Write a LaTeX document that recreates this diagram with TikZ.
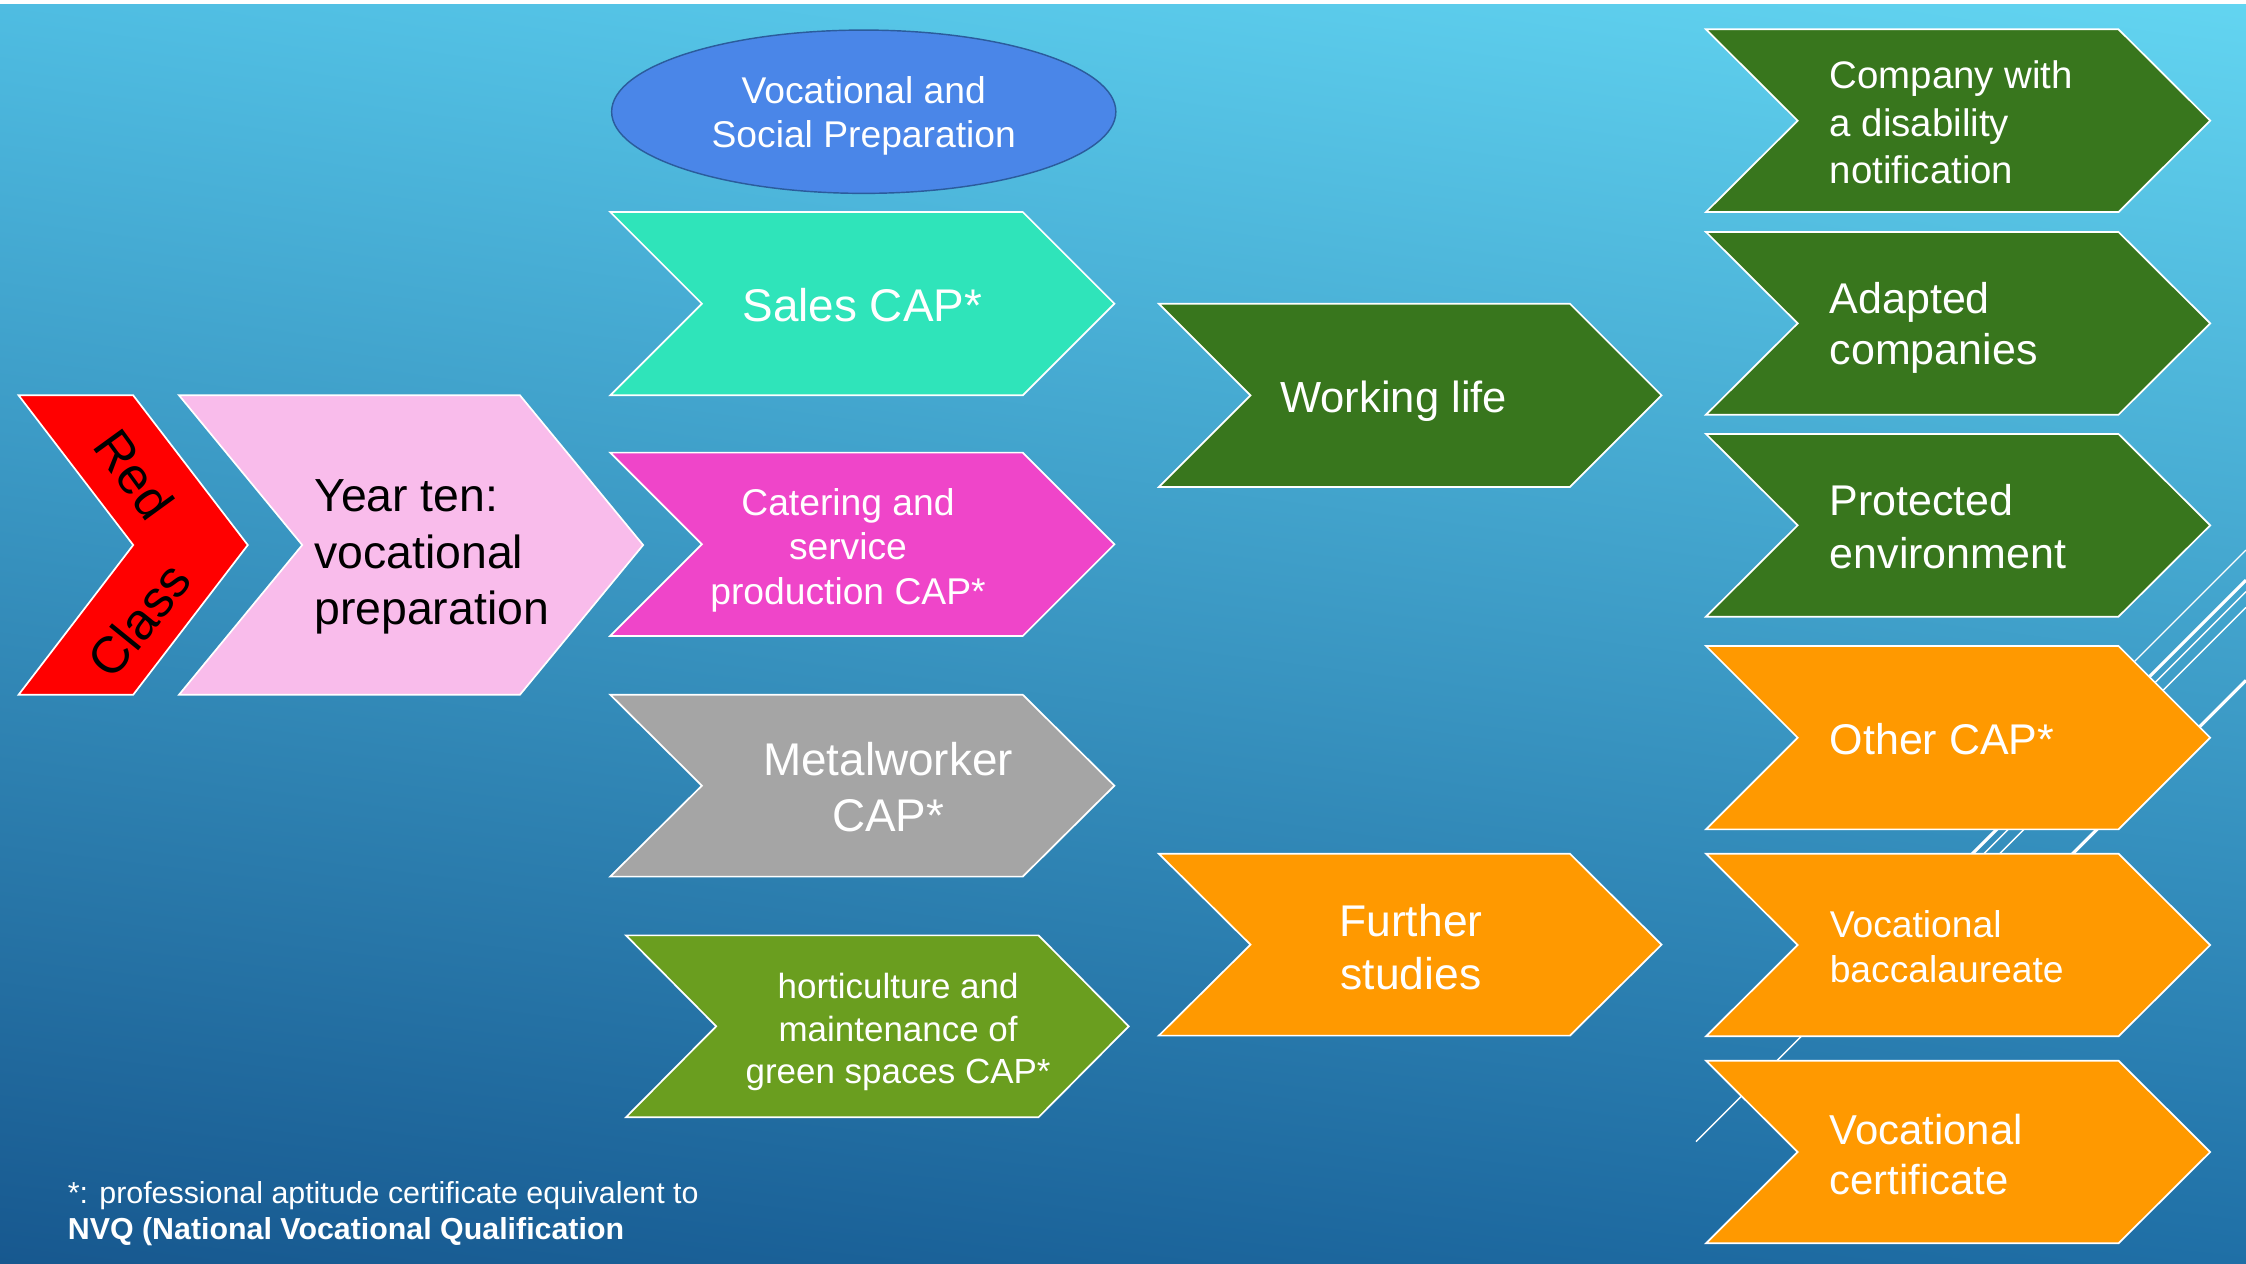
\documentclass[tikz,border=0pt]{standalone}
\usepackage{fontspec}
\setmainfont{Liberation Sans}
\usetikzlibrary{shapes.geometric,shadings}
\definecolor{bgUL}{HTML}{4FBDE2}
\definecolor{bgUR}{HTML}{63D5F1}
\definecolor{bgLL}{HTML}{17588F}
\definecolor{bgLR}{HTML}{1F6FA6}
\definecolor{cRed}{HTML}{FF0000}
\definecolor{cPink}{HTML}{F9BCEB}
\definecolor{cMint}{HTML}{2FE4BA}
\definecolor{cMagenta}{HTML}{EF45C9}
\definecolor{cGrey}{HTML}{A5A5A5}
\definecolor{cOlive}{HTML}{6A9E1F}
\definecolor{cDark}{HTML}{38761D}
\definecolor{cOrange}{HTML}{FF9900}
\definecolor{cEll}{HTML}{4A86E8}
\definecolor{cEllB}{HTML}{2B5C9C}
\newcommand\mychev[6]{%
  \filldraw[fill=#6, draw=white, line width=0.6pt, line join=miter]
    (#1,#2) -- ++(#3-#5,0) -- ++(#5,#4/2) -- ++(-#5,#4/2) -- ++(#5-#3,0) -- ++(#5,-#4/2) -- cycle;}
\newcommand\fs[2]{\fontsize{#1}{#2}\selectfont}
\begin{document}
\begin{tikzpicture}[x=0.5pt,y=-0.5pt,
  txt/.style={inner sep=0pt, text=white, align=center},
  ltxt/.style={inner sep=0pt, text=white, align=left, anchor=west},
  deco/.style={white, line width=0.45pt},
  decothick/.style={white, line width=1.1pt}]
\useasboundingbox (0,0) rectangle (1568,882);
\shade[upper left=bgUL, upper right=bgUR, lower left=bgLL, lower right=bgLR] (0,0) rectangle (1568,882);
\fill[white] (0,0) rectangle (1568,2.5);
% decorative lines
\coordinate (l1a) at (1432,520); \coordinate (l1b) at (1568,384);
\coordinate (l2a) at (1363,610); \coordinate (l2b) at (1568,405);
\coordinate (l3a) at (1184,797); \coordinate (l3b) at (1568,413);
\coordinate (l4a) at (1382,610); \coordinate (l4b) at (1568,424);
\coordinate (l5a) at (1433,610); \coordinate (l5b) at (1568,475);
\draw[deco] (l1a) -- (l1b);
\draw[decothick] (l2a) -- (l2b);
\draw[deco] (l3a) -- (l3b);
\draw[deco] (l4a) -- (l4b);
\draw[decothick] (l5a) -- (l5b);
% chevrons
\mychev{13}{276}{160}{209}{80}{cRed}
\mychev{125}{276}{324}{209}{86}{cPink}
\mychev{426}{148}{352}{128}{64}{cMint}
\mychev{426}{316}{352}{128}{64}{cMagenta}
\mychev{426}{485}{352}{127}{64}{cGrey}
\mychev{437}{653}{351}{127}{63}{cOlive}
\mychev{809}{212}{351}{128}{64}{cDark}
\mychev{809}{596}{351}{127}{64}{cOrange}
\mychev{1191}{20.5}{352}{127.5}{64}{cDark}
\mychev{1191}{162}{352}{127.5}{64}{cDark}
\mychev{1191}{303}{352}{127.5}{64}{cDark}
\mychev{1191}{451}{352}{128}{64}{cOrange}
\mychev{1191}{596}{352}{127.5}{64}{cOrange}
\mychev{1191}{740.5}{352}{127.5}{64}{cOrange}
% ellipse
\node[ellipse, draw=cEllB, fill=cEll, line width=0.5pt, minimum width=176pt, minimum height=57pt,
      inner sep=0pt, text=white, align=center, font=\fs{13}{15.5}] (vsp) at (603,78)
  {};
\node[txt, font=\fs{13}{15.5}] (vsptext) at (603,81) {Vocational and\\Social Preparation};
% texts
\node[inner sep=0pt, rotate=-54, font=\fs{18}{21}] (red) at (94,331) {Red};
\node[inner sep=0pt, rotate=51, font=\fs{18}{21}] (class) at (97,433) {Class};
\node[inner sep=0pt, align=left, anchor=west, font=\fs{16.2}{19.75}] (year) at (219,389)
  {Year ten:\\vocational\\preparation};
\node[txt, font=\fs{16}{19}] (sales) at (602,213) {Sales CAP*};
\node[txt, font=\fs{13}{15.5}] (cater) at (592,384) {Catering and\\service\\production CAP*};
\node[txt, font=\fs{16}{19.75}] (metal) at (620,549.5) {Metalworker\\CAP*};
\node[txt, font=\fs{12.2}{14.75}] (horti) at (627,720.5) {horticulture and\\maintenance of\\green spaces CAP*};
\node[txt, font=\fs{15.2}{18}] (work) at (973,280) {Working life};
\node[txt, font=\fs{15.5}{18.5}] (further) at (985,661) {Further\\studies};
\node[ltxt, font=\fs{13.4}{16.5}] (company) at (1277,85.5) {Company with\\a disability\\notification};
\node[ltxt, font=\fs{15}{18}] (adapted) at (1277,229) {Adapted\\companies};
\node[ltxt, font=\fs{15}{18.5}] (protected) at (1277,368) {Protected\\environment};
\node[ltxt, font=\fs{15}{18}] (other) at (1277,516) {Other CAP*};
\node[ltxt, font=\fs{13}{15.5}] (bacc) at (1277,661) {Vocational\\baccalaureate};
\node[ltxt, font=\fs{14.6}{17.5}] (cert) at (1277,806) {Vocational\\certificate};
\node[ltxt, font=\fs{10.6}{12.5}] (note) at (47,847)
  {*: professional aptitude certificate equivalent to\\\textbf{NVQ (National Vocational Qualification}};
\end{tikzpicture}
\end{document}
